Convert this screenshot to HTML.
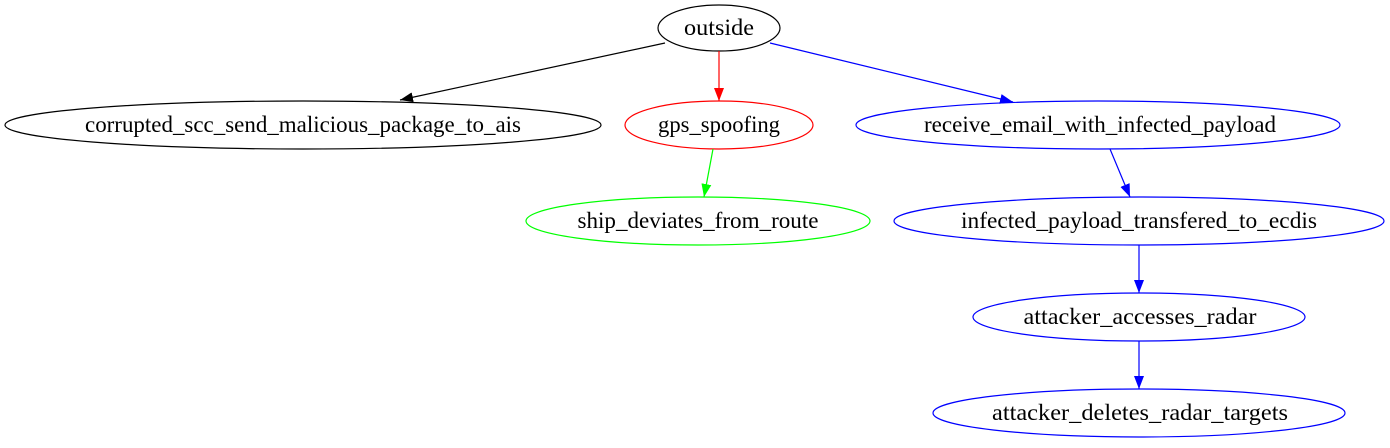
<!DOCTYPE html>
<html><head><meta charset="utf-8"><style>
html,body{margin:0;padding:0;background:#fff;}
svg text{font-family:"Liberation Serif",serif;font-size:23px;text-anchor:middle;}
</style></head><body>
<svg width="1390" height="443" viewBox="0 0 1390 443" xmlns="http://www.w3.org/2000/svg">
<defs>
<marker id="mk" markerWidth="13" markerHeight="10" refX="13" refY="5" orient="auto" markerUnits="userSpaceOnUse"><path d="M0,0 L13,5 L0,10 Z" fill="#000"/></marker>
<marker id="mr" markerWidth="13" markerHeight="10" refX="13" refY="5" orient="auto" markerUnits="userSpaceOnUse"><path d="M0,0 L13,5 L0,10 Z" fill="#f00"/></marker>
<marker id="mb" markerWidth="13" markerHeight="10" refX="13" refY="5" orient="auto" markerUnits="userSpaceOnUse"><path d="M0,0 L13,5 L0,10 Z" fill="#00f"/></marker>
<marker id="mg" markerWidth="13" markerHeight="10" refX="13" refY="5" orient="auto" markerUnits="userSpaceOnUse"><path d="M0,0 L13,5 L0,10 Z" fill="#0f0"/></marker>
</defs>
<g fill="none" stroke-width="1.2">
<ellipse cx="719" cy="28" rx="61" ry="23" stroke="#000"/>
<ellipse cx="303" cy="125" rx="298" ry="24" stroke="#000"/>
<ellipse cx="719" cy="125" rx="94" ry="24" stroke="#f00"/>
<ellipse cx="1098" cy="125" rx="242" ry="24" stroke="#00f"/>
<ellipse cx="698" cy="221" rx="172" ry="24" stroke="#0f0"/>
<ellipse cx="1139" cy="221" rx="245" ry="24" stroke="#00f"/>
<ellipse cx="1139" cy="317" rx="166" ry="24" stroke="#00f"/>
<ellipse cx="1139" cy="413" rx="206" ry="24" stroke="#00f"/>
<line x1="665" y1="43" x2="400" y2="100" stroke="#000" marker-end="url(#mk)"/>
<line x1="719" y1="51" x2="719" y2="101" stroke="#f00" marker-end="url(#mr)"/>
<line x1="770" y1="43" x2="1013" y2="102" stroke="#00f" marker-end="url(#mb)"/>
<line x1="713" y1="149" x2="704" y2="197" stroke="#0f0" marker-end="url(#mg)"/>
<line x1="1110" y1="149" x2="1130" y2="197" stroke="#00f" marker-end="url(#mb)"/>
<line x1="1139" y1="245" x2="1139" y2="293" stroke="#00f" marker-end="url(#mb)"/>
<line x1="1139" y1="341" x2="1139" y2="389" stroke="#00f" marker-end="url(#mb)"/>
</g>
<text x="719" y="35" textLength="70" lengthAdjust="spacingAndGlyphs">outside</text>
<text x="303" y="132" textLength="436" lengthAdjust="spacingAndGlyphs">corrupted_scc_send_malicious_package_to_ais</text>
<text x="719" y="132" textLength="122" lengthAdjust="spacingAndGlyphs">gps_spoofing</text>
<text x="1100" y="132" textLength="352" lengthAdjust="spacingAndGlyphs">receive_email_with_infected_payload</text>
<text x="698" y="228" textLength="241" lengthAdjust="spacingAndGlyphs">ship_deviates_from_route</text>
<text x="1139" y="228" textLength="356" lengthAdjust="spacingAndGlyphs">infected_payload_transfered_to_ecdis</text>
<text x="1140" y="324" textLength="233" lengthAdjust="spacingAndGlyphs">attacker_accesses_radar</text>
<text x="1140" y="420" textLength="296" lengthAdjust="spacingAndGlyphs">attacker_deletes_radar_targets</text>
</svg>
</body></html>
